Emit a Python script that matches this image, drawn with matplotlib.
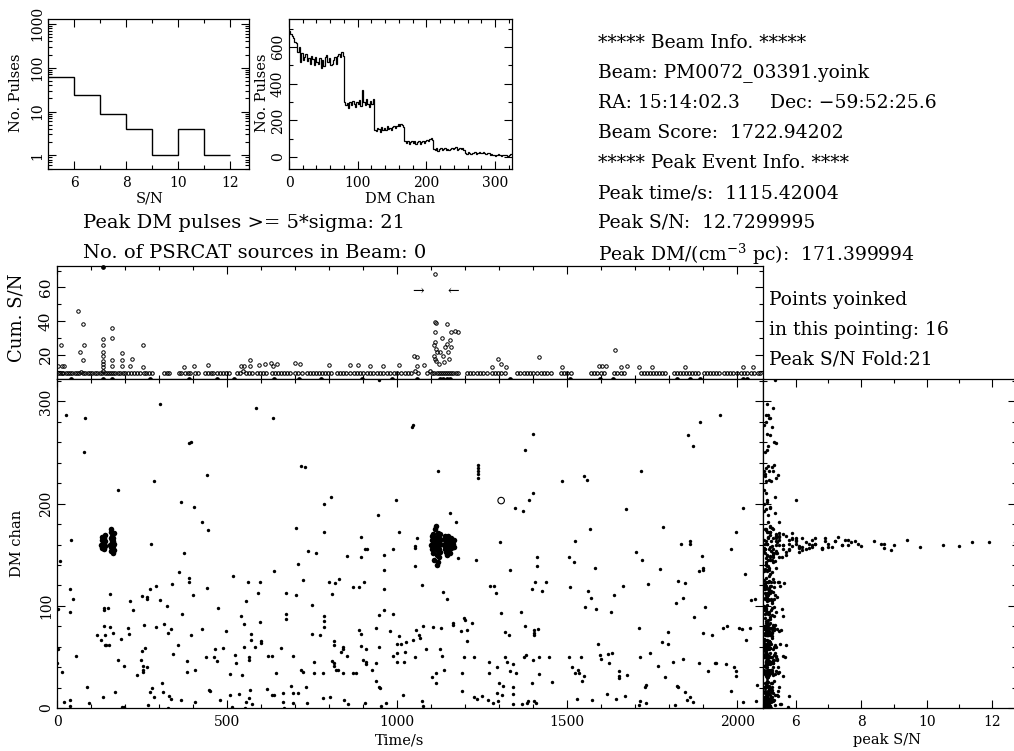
import numpy as np
import matplotlib
matplotlib.use('Agg')
import matplotlib.pyplot as plt
from matplotlib.ticker import MultipleLocator, LogLocator, NullFormatter

plt.rcParams['font.family'] = ['DejaVu Serif']
plt.rcParams['mathtext.fontset'] = 'dejavuserif'

W, H = 1014, 751

# ---- S/N histogram (top left)
snr_edges = [5, 6, 7, 8, 9, 10, 11, 12]
snr_counts = [62, 24, 9, 4, 1, 4, 1]

# ---- DM channel histogram (2-channel bins starting at 0)
dm_hist = [685, 672, 660, 648, 630, 622, 575, 598, 520, 565, 530, 548,
           560, 525, 540, 510, 552, 535, 500, 545, 520, 505, 540, 485,
           530, 498, 545, 555, 520, 540, 500, 510, 532, 548, 505, 550,
           560, 548, 575, 552,
           300, 285, 295, 270, 300, 282, 305, 290, 275, 300, 288, 310,
           280, 365, 300, 285, 315, 290, 275, 305, 290, 318,
           148, 140, 160, 152, 138, 165, 150, 158, 145, 170, 152, 160,
           148, 162, 172, 160, 168, 178, 170, 182, 175, 165,
           85, 78, 88, 72, 82, 90, 76, 85, 70, 80, 86, 74, 82, 90, 78, 88,
           95, 85, 100, 105, 92,
           45, 40, 48, 35, 42, 50, 38, 45, 52, 40, 46, 36, 44, 50, 42, 48,
           55, 40, 46, 52, 44, 50, 38,
           22, 18, 25, 20, 16, 24, 20, 26, 18, 22, 25, 20, 24, 28, 22, 18, 24, 20,
           12, 15, 10, 14, 8, 12, 16, 10, 6, 12, 9, 14, 11, 7, 13, 16]
dm_bin = 2

# ---- single pulse events (time in s, DM channel)
bg_time = [26, 83, 80, 303, 586, 636, 389, 394, 284, 440,
           178, 717, 728, 805, 998, 364, 404, 784, 943, 425,
           445, 704, 784, 1005, 41, 10, 276, 374, 738, 762,
           905, 912, 893, 963, 989, 854, 709, 894, 359, 639,
           963, 387, 387, 517, 722, 562, 598, 801, 817, 830,
           903, 37, 46, 272, 291, 337, 440, 156, 401, 592,
           673, 703, 808, 871, 889, 963, 214, 224, 250, 265,
           265, 302, 323, 472, 556, 3, 139, 139, 149, 368,
           542, 673, 673, 750, 785, 785, 785, 948, 963, 989,
           596, 38, 139, 142, 142, 156, 119, 129, 145, 153,
           164, 208, 211, 188, 257, 291, 314, 325, 335, 393,
           425, 496, 551, 569, 569, 581, 599, 599, 750, 774,
           815, 815, 840, 840, 887, 895, 938, 895, 910, 948,
           978, 1007, 3, 56, 180, 197, 236, 246, 250, 260,
           252, 252, 252, 265, 341, 357, 382, 382, 407, 437,
           462, 471, 466, 487, 509, 522, 525, 544, 551, 564,
           564, 620, 633, 644, 660, 693, 717, 724, 732, 756,
           756, 781, 808, 815, 815, 819, 827, 835, 840, 854,
           869, 879, 910, 910, 901, 925, 939, 937, 948, 989,
           1000, 1, 16, 22, 39, 39, 89, 95, 134, 171,
           190, 197, 268, 274, 279, 285, 308, 311, 327, 330,
           336, 365, 406, 447, 451, 478, 508, 515, 536, 556,
           552, 564, 567, 574, 618, 631, 638, 665, 665, 667,
           687, 693, 709, 695, 734, 781, 804, 843, 857, 907,
           951, 953, 966, 946,
           1046, 1044, 1401, 1949, 1892, 1854, 1869, 1119, 1238, 1238,
           1238, 1238, 1238, 1376, 1484, 1550, 1558, 1717, 1399, 1389,
           1347, 1369, 1673, 1157, 1173, 1566, 1782, 1998, 1053, 1053,
           1059, 1303, 1522, 1835, 1860, 1860, 1897, 1899, 1899, 1982,
           1178, 1232, 1507, 1519, 1411, 1411, 1702, 1720, 1053, 1332,
           1582, 1772, 1888, 2023, 1073, 1134, 1146, 1274, 1284, 1291,
           1396, 1407, 1437, 1427, 1508, 1562, 1569, 1554, 1584, 1639,
           1665, 1628, 1739, 1821, 1826, 1847, 1841, 1905, 1873, 2041,
           2053, 1307, 1363, 1375, 1404, 1404, 1402, 1413, 1198, 1199,
           1221, 1164, 1164, 1105, 1128, 1187, 1205, 1065, 1067, 1076,
           999, 1012, 1027, 999, 1046, 1057, 1084, 1125, 1132, 1053,
           1022, 1020, 1016, 1073, 1075, 1103, 1115, 1115, 1137, 1190,
           1191, 1196, 1207, 1226, 1225, 1235, 1250, 1266, 1283, 1269,
           1271, 1293, 1299, 1310, 1309, 1295, 1296, 1318, 1329, 1318,
           1323, 1333, 1340, 1342, 1349, 1342, 1340, 1367, 1382, 1384,
           1378, 1374, 1401, 1418, 1416, 1404, 1408, 1396, 1447, 1457,
           1506, 1513, 1524, 1528, 1531, 1536, 1541, 1543, 1550, 1574,
           1591, 1598, 1601, 1621, 1633, 1624, 1618, 1643, 1654, 1654,
           1654, 1671, 1677, 1711, 1713, 1712, 1714, 1729, 1731, 1731,
           1745, 1768, 1780, 1788, 1798, 1798, 1812, 1816, 1822, 1827,
           1841, 1847, 1861, 1871, 1852, 1887, 1899, 1913, 1926, 1935,
           1938, 1959, 1970, 1966, 1990, 1996, 1996, 1983, 2006, 2013,
           2025, 2038, 2016, 2054, 2057, 2018]
bg_dm = [287, 284, 251, 298, 294, 284, 259, 260, 222, 228,
         213, 237, 236, 207, 204, 202, 197, 200, 189, 182,
         174, 176, 172, 172, 164, 144, 161, 152, 154, 152,
         156, 156, 148, 150, 156, 149, 141, 167, 133, 134,
         135, 127, 123, 129, 125, 123, 123, 123, 122, 126,
         123, 116, 107, 116, 119, 121, 117, 112, 111, 113,
         113, 111, 112, 118, 118, 116, 105, 96, 110, 109,
         107, 106, 100, 98, 105, 97, 98, 96, 98, 92,
         90, 92, 87, 101, 90, 85, 79, 91, 96, 92,
         84, 94, 80, 71, 62, 79, 71, 67, 62, 62,
         73, 78, 72, 68, 81, 79, 82, 73, 77, 71,
         77, 75, 82, 72, 67, 60, 66, 64, 72, 71,
         66, 62, 58, 60, 76, 72, 78, 61, 58, 60,
         75, 70, 58, 51, 47, 41, 32, 47, 56, 59,
         41, 37, 35, 40, 53, 62, 46, 35, 37, 50,
         50, 46, 58, 59, 33, 52, 44, 32, 60, 50,
         47, 51, 51, 34, 59, 51, 37, 35, 21, 45,
         34, 34, 46, 44, 41, 37, 37, 55, 34, 51,
         34, 34, 45, 43, 47, 37, 44, 26, 21, 51,
         45, 44, 35, 6, 8, 2, 21, 5, 11, 16,
         1, 1, 3, 16, 20, 11, 24, 16, 0, 12,
         9, 8, 6, 18, 17, 8, 13, 1, 14, 6,
         0, 10, 18, 4, 19, 13, 13, 15, 6, 0,
         22, 15, 15, 5, 5, 10, 11, 8, 4, 5,
         20, 2, 5, 321,
         277, 275, 268, 287, 280, 267, 256, 232, 238, 235,
         232, 229, 225, 253, 222, 227, 223, 232, 210, 204,
         196, 193, 195, 191, 182, 175, 177, 172, 159, 157,
         166, 162, 163, 161, 163, 161, 149, 137, 135, 156,
         147, 145, 148, 143, 148, 139, 153, 145, 139, 135,
         137, 136, 134, 131, 120, 114, 107, 119, 119, 113,
         116, 123, 123, 115, 118, 115, 108, 99, 97, 111,
         119, 94, 121, 103, 124, 122, 108, 99, 89, 106,
         107, 93, 94, 80, 73, 71, 76, 77, 88, 86,
         83, 83, 81, 79, 78, 75, 76, 71, 69, 80,
         63, 63, 65, 54, 67, 76, 58, 58, 51, 50,
         55, 45, 13, 7, 2, 30, 34, 24, 37, 34,
         17, 50, 66, 50, 11, 9, 12, 8, 5, 45,
         34, 40, 24, 22, 13, 15, 7, 74, 71, 50,
         45, 36, 43, 21, 34, 14, 4, 4, 5, 7,
         52, 50, 47, 50, 33, 7, 5, 24, 50, 25,
         50, 40, 34, 9, 37, 34, 50, 26, 31, 8,
         63, 52, 48, 53, 54, 44, 14, 9, 36, 31,
         29, 12, 32, 78, 50, 3, 7, 21, 23, 5,
         54, 41, 65, 30, 74, 63, 45, 3, 22, 21,
         48, 16, 11, 6, 8, 44, 73, 36, 71, 44,
         44, 78, 80, 43, 40, 36, 31, 17, 78, 77,
         67, 78, 6, 7, 23, 196]
bg_snr = [5.10, 5.22, 5.05, 5.12, 5.30, 5.18, 5.40, 5.34, 5.08, 5.45,
          5.02, 5.15, 5.26, 5.38, 6.02, 5.12, 5.20, 5.04, 5.16, 5.48,
          5.09, 5.28, 5.14, 5.22, 5.03, 5.36, 5.11, 5.07, 5.24, 5.42,
          5.06, 5.18, 5.31, 5.13, 5.05, 5.22, 5.09, 5.16, 5.27, 5.04,
          5.12, 5.08, 5.35, 5.19, 5.02, 5.46, 5.14, 5.23, 5.06, 5.30,
          5.10, 5.03, 5.25, 5.15, 5.52, 5.07, 5.18, 5.11, 5.38, 5.05,
          5.21, 5.09, 5.14, 5.33, 5.04, 5.17, 5.26, 5.08, 5.12, 5.44,
          5.06, 5.19, 5.02, 5.28, 5.13, 5.58, 5.10, 5.24, 5.07, 5.16,
          5.35, 5.05, 5.20, 5.11, 5.62, 5.08, 5.15, 5.29, 5.03, 5.18,
          5.12, 5.41, 5.06, 5.22, 5.09, 5.31, 5.14, 5.04, 5.70, 5.17,
          5.08, 5.25, 5.13, 5.02, 5.36, 5.10, 5.19, 5.06, 5.27, 5.14,
          5.05, 5.48, 5.11, 5.20, 5.07, 5.33, 5.16, 5.03, 5.23, 5.09,
          5.18, 5.04, 5.30, 5.12, 5.55, 5.08, 5.21, 5.15, 5.06, 5.39,
          5.11, 5.26, 5.02, 5.17, 5.43, 5.09, 5.14, 5.32, 5.07, 5.20,
          5.04, 5.13, 5.28, 5.10, 5.06, 5.37, 5.19, 5.03, 5.24, 5.12,
          5.66, 5.08, 5.15, 5.22, 5.05, 5.34, 5.11, 5.18, 5.02, 5.29,
          5.14, 5.07, 5.40, 5.10, 5.21, 5.04, 5.16, 5.50, 5.09, 5.25,
          5.03, 5.19, 5.12, 5.31, 5.06, 5.23, 5.15, 5.08, 5.45, 5.11,
          5.27, 5.05, 5.17, 5.10, 5.35, 5.02, 5.20, 5.13, 5.07, 5.60,
          5.09, 5.22, 5.04, 5.14, 5.30, 5.11, 5.18, 5.06, 5.26, 5.13,
          5.02, 5.16, 5.38, 5.08, 5.21, 5.12, 5.05, 5.29, 5.15, 5.47,
          5.10, 5.04, 5.24, 5.17, 5.07, 5.33, 5.13, 5.75, 5.09, 5.20,
          5.06, 5.14, 5.28, 5.03, 5.19, 5.11, 5.42, 5.08, 5.16, 5.23,
          5.12, 5.05, 5.31, 5.18, 5.09, 5.25, 5.02, 5.15, 5.52, 5.10,
          5.07, 5.20, 5.13, 5.36, 5.04, 5.27, 5.11, 5.16, 5.08, 5.22,
          5.14, 5.03, 5.34, 5.09, 5.19, 5.06, 5.41, 5.12, 5.25, 5.05,
          5.17, 5.30, 5.08, 5.13, 5.22, 5.04, 5.10, 5.36, 5.15, 5.07,
          5.20, 5.11, 5.28, 5.03, 5.16, 5.44, 5.09, 5.13, 5.24, 5.06,
          5.12, 5.19, 5.05, 5.32, 5.10, 5.15, 5.57, 5.08, 5.21, 5.14,
          5.04, 5.26, 5.11, 5.17, 5.39, 5.07, 5.13, 5.22, 5.02, 5.30,
          5.16, 5.09, 5.20, 5.12, 5.06, 5.48, 5.14, 5.25, 5.10, 5.18,
          5.05, 5.33, 5.08, 5.15, 5.23, 5.11, 5.03, 5.29, 5.17, 5.64,
          5.12, 5.07, 5.21, 5.14, 5.35, 5.09, 5.18, 5.04, 5.26, 5.13,
          5.10, 5.42, 5.06, 5.16, 5.22, 5.08, 5.31, 5.12, 5.02, 5.19,
          5.15, 5.05, 5.27, 5.11, 5.52, 5.09, 5.14, 5.20, 5.07, 5.34,
          5.13, 5.18, 5.04, 5.24, 5.10, 5.16, 5.38, 5.06, 5.21, 5.12,
          5.08, 5.29, 5.15, 5.03, 5.45, 5.11, 5.19, 5.07, 5.25, 5.14,
          5.80, 5.10, 5.17, 5.22, 5.05, 5.32, 5.13, 5.09, 5.20, 5.16,
          5.06, 5.27, 5.12, 5.40, 5.08, 5.18, 5.14, 5.04, 5.23, 5.11,
          5.55, 5.07, 5.15, 5.30, 5.10, 5.21, 5.13, 5.06, 5.36, 5.17,
          5.09, 5.24, 5.02, 5.14, 5.19, 5.47, 5.12, 5.08, 5.28, 5.15,
          5.05, 5.33, 5.11, 5.20, 5.16, 5.07, 5.43, 5.13, 5.10, 5.26,
          5.18, 5.04, 5.22, 5.60, 5.12, 5.09, 5.31, 5.15, 5.06, 5.19,
          5.14, 5.27, 5.08, 5.11, 5.37, 5.03, 5.21, 5.16, 5.10, 5.25,
          5.13, 5.07, 5.18, 5.50, 5.12, 5.24, 5.09, 5.15, 5.05, 5.30,
          5.17, 5.11, 5.22, 5.08, 5.14, 5.34, 5.06, 5.20, 5.12, 5.41,
          5.09, 5.16, 5.28, 5.04, 5.13, 5.19]

# bright clusters (time, DM chan, S/N)
blob_time = [130, 131, 132, 133, 134, 135, 136, 137, 138, 139, 140, 141, 142, 136,
             157, 158, 159, 160, 161, 162, 163, 164, 165, 166, 167, 168, 162, 164, 160, 166, 169, 158,
             1100, 1102, 1103, 1104, 1105, 1106, 1107, 1108, 1109, 1110, 1111, 1112,
             1113, 1114, 1115, 1115, 1116, 1116, 1117, 1117, 1118, 1118, 1119, 1120,
             1120, 1121, 1122, 1122, 1123, 1124, 1125, 1126, 1126, 1127, 1113, 1119,
             1138, 1139, 1140, 1141, 1142, 1143, 1144, 1145, 1146, 1147, 1148, 1149, 1150, 1151,
             1152, 1153, 1154, 1155, 1156, 1157, 1158, 1159, 1160, 1162, 1164, 1165, 1167, 1168]
blob_dm = [160, 164, 157, 167, 161, 158, 163, 166, 156, 161, 169, 159, 163, 160,
           160, 166, 154, 172, 162, 157, 168, 152, 163, 159, 171, 155, 164, 160, 175, 166, 161, 158,
           160, 164, 156, 168, 152, 161, 170, 158, 145, 163, 175, 157,
           161, 166, 162, 159, 150, 164, 140, 160, 167, 155, 162, 171,
           158, 163, 148, 160, 166, 156, 161, 170, 153, 164, 178, 143,
           160, 165, 156, 161, 168, 153, 162, 158, 166, 150, 161, 163, 157, 168,
           160, 155, 164, 159, 162, 152, 166, 160, 157, 163, 158, 161, 164, 158]
blob_snr = [5.4, 5.8, 6.1, 5.5, 6.4, 7.0, 6.0, 5.3, 5.6, 6.6, 5.2, 5.9, 5.4, 7.4,
            5.6, 5.9, 5.4, 5.2, 6.3, 6.8, 5.7, 5.3, 7.2, 6.1, 5.5, 5.8, 7.6, 6.5, 5.1, 5.4, 6.0, 6.2,
            5.5, 6.0, 5.8, 5.4, 5.3, 6.6, 5.6, 7.1, 5.2, 7.8, 5.3, 6.4,
            8.7, 6.9, 12.7, 11.0, 5.7, 9.4, 5.1, 10.5, 7.3, 8.9, 11.4, 5.9,
            9.8, 8.4, 5.5, 7.6, 6.2, 6.8, 7.9, 5.4, 6.1, 6.5, 5.2, 5.3,
            5.6, 5.9, 6.3, 7.0, 5.4, 5.7, 7.7, 6.5, 6.0, 5.3, 8.6, 7.2, 6.8, 5.5,
            9.0, 6.2, 7.5, 8.0, 11.9, 5.4, 6.6, 7.4, 8.7, 6.9, 6.1, 5.8, 5.5, 5.2]

# odd event drawn as an open circle
open_time, open_dm = [1306], [203]

# ---- cumulative S/N panel
cum_time = [12, 61, 68, 77, 80, 77, 136, 136, 136, 136, 136, 136, 136,
            163, 163, 163, 163, 192, 192, 192, 220, 215, 254, 254,
            372, 404, 443, 568, 540, 549, 568, 595, 612, 628, 636, 647,
            700, 715, 800, 862, 886, 921, 958, 1006, 1050, 1058, 1060, 1078,
            1112, 1112, 1114, 1112, 1112, 1110, 1114, 1116, 1108, 1112, 1114,
            1146, 1131, 1146, 1141, 1155, 1160, 1170, 1180, 1125, 1135, 1150,
            1158, 1122, 1138, 1152, 1296, 1280, 1306, 1320, 1416, 1486, 1640,
            1593, 1603, 1615, 1658, 1675, 1711, 1749, 1847, 2016, 2048, 4, 14, 22]
cum_value = [25.8, 45.8, 21.4, 38.4, 25.8, 17.0, 29.4, 25.4, 21.4, 19.0, 16.4, 14.4, 12.4,
             35.8, 30.0, 17.0, 13.0, 20.8, 17.0, 13.0, 17.4, 13.0, 25.4, 12.6,
             12.6, 13.0, 13.6, 17.0, 13.0, 13.0, 13.0, 13.6, 14.2, 14.8, 13.0, 14.2,
             14.8, 14.2, 13.6, 13.6, 13.6, 13.0, 13.0, 13.6, 19.4, 18.4, 13.0, 13.6,
             67.8, 39.4, 38.8, 33.4, 27.4, 25.4, 23.4, 21.4, 19.4, 17.4, 16.4,
             38.0, 30.0, 26.4, 24.4, 28.4, 33.4, 33.8, 33.4, 21.4, 19.4, 21.4,
             24.4, 14.4, 15.4, 17.4, 17.4, 12.8, 14.4, 12.4, 18.8, 12.8, 22.8,
             13.0, 13.0, 13.0, 12.8, 13.0, 12.8, 12.8, 12.8, 12.8, 12.8, 13.0, 13.0, 13.0]
cum_base_time = [4, 9, 14, 19, 25, 31, 37, 43, 53, 58, 64, 70, 76, 83, 90, 97, 104, 111, 117,
                 126, 131, 136, 141, 147, 153, 158, 164, 172, 179, 186, 193, 201, 209, 217, 226,
                 235, 243, 255, 262, 270, 278, 314, 322, 330, 358, 366, 375, 384, 391, 407, 416,
                 436, 444, 452, 459, 471, 479, 488, 497, 506, 529, 537, 546, 555, 564, 573,
                 588, 597, 606, 615, 632, 641, 650, 659, 668, 677, 684, 701, 710, 719,
                 735, 744, 753, 762, 771, 780, 789, 798, 807, 824, 833, 842, 851,
                 863, 872, 881, 890, 899, 912, 921, 930, 940, 950, 959, 971, 980, 990, 1000,
                 1012, 1022, 1032, 1042, 1052, 1062, 1088, 1097, 1104, 1110, 1116, 1122, 1128,
                 1134, 1140, 1146, 1152, 1158, 1164, 1172, 1180, 1206, 1215, 1224, 1234, 1244,
                 1254, 1263, 1280, 1289, 1298, 1307, 1316, 1353, 1362, 1372, 1382, 1392, 1400,
                 1412, 1422, 1432, 1442, 1452, 1481, 1491, 1501, 1511, 1569, 1579, 1589, 1599,
                 1609, 1637, 1647, 1657, 1667, 1716, 1725, 1734, 1743, 1752, 1761, 1770, 1779,
                 1788, 1814, 1823, 1832, 1841, 1850, 1859, 1868, 1877, 1886, 1902, 1911, 1920,
                 1929, 1938, 1947, 1961, 1970, 1979, 1988, 2000, 2010, 2020, 2030, 2040, 2050,
                 2060, 2068]
cum_base_value = [9.0, 8.8, 9.2, 9.0, 8.9, 9.1, 9.0, 8.8, 9.2, 9.0, 8.9, 9.3, 9.0, 8.8, 9.1,
                  9.0, 9.2, 8.9, 9.0, 9.1, 8.8, 10.4, 9.0, 9.2, 8.9, 9.0, 9.1, 8.8, 9.0, 9.2,
                  9.0, 8.9, 9.1, 9.0, 8.8, 9.2, 9.0, 8.9, 9.1, 9.0, 9.2, 8.8, 9.0, 9.1, 9.0,
                  8.9, 9.2, 9.0, 8.8, 9.1, 9.0, 9.2, 8.9, 9.0, 9.1, 8.8, 9.0, 9.2, 9.0, 8.9,
                  9.1, 9.0, 10.4, 8.8, 9.2, 9.0, 8.9, 9.1, 9.0, 9.2, 8.8, 9.0, 9.1, 9.0, 8.9,
                  9.2, 9.0, 8.8, 9.1, 9.0, 9.2, 8.9, 9.0, 9.1, 8.8, 9.0, 9.2, 9.0, 8.9, 9.1,
                  9.0, 9.2, 8.8, 9.0, 9.1, 9.0, 8.9, 9.2, 9.0, 8.8, 9.1, 9.0, 9.2, 8.9, 9.0,
                  9.1, 8.8, 9.0, 9.2, 9.0, 8.9, 9.1, 10.4, 9.0, 9.2, 10.4, 8.8, 9.0, 9.1, 9.0,
                  8.9, 9.2, 9.0, 8.8, 9.1, 9.0, 9.2, 8.9, 9.0, 9.1, 8.8, 9.0, 9.2, 9.0, 8.9,
                  9.1, 9.0, 9.2, 8.8, 9.0, 9.1, 9.0, 8.9, 9.2, 9.0, 8.8, 9.1, 9.0, 9.2, 8.9,
                  9.0, 9.1, 8.8, 9.0, 9.2, 9.0, 8.9, 9.1, 9.0, 9.2, 8.8, 9.0, 9.1, 9.0, 8.9,
                  9.2, 9.0, 8.8, 9.1, 9.0, 9.2, 8.9, 9.0, 9.1, 8.8, 9.0, 9.2, 9.0, 8.9, 9.1,
                  9.0, 9.2, 8.8, 9.0, 9.1, 9.0, 8.9, 9.2, 9.0, 8.8, 9.1, 9.0, 9.2, 8.9, 9.0,
                  9.1, 8.8, 9.0, 9.2, 9.0, 8.9]
cum_floor_time = [42, 136, 161, 274, 387, 470, 519, 637, 711, 775, 896, 984, 1058, 1126,
                  1136, 1146, 1156, 1332, 1509, 1597, 1636, 1822, 1860, 1891, 2018, 2028]
cum_floor_value = [5.6, 5.6, 5.6, 5.6, 5.6, 5.6, 5.6, 5.6, 5.6, 5.6, 5.6, 5.6, 5.6, 5.6,
                   5.6, 5.6, 5.6, 5.6, 5.6, 5.6, 5.6, 5.6, 5.6, 5.6, 5.6, 5.6]
cum_top_time, cum_top_value = [136], [72.4]

info_lines = ['***** Beam Info. *****',
              'Beam: PM0072_03391.yoink',
              None,
              'Beam Score:  1722.94202',
              '***** Peak Event Info. ****',
              'Peak time/s:  1115.42004',
              'Peak S/N:  12.7299995',
              'Peak DM/(cm$^{-3}$ pc):  171.399994']
info_y = [43, 73, 103, 133, 163, 193, 223, 254]


def box(x0, y0, x1, y1):
    return [x0 / W, 1 - y1 / H, (x1 - x0) / W, (y1 - y0) / H]


def ftext(x, y, s, **kw):
    fig.text(x / W, 1 - y / H, s, va='center', **kw)


def pg_style(ax, ysize=10):
    ax.tick_params(which='both', direction='in', top=True, right=True,
                   width=0.8, labelsize=10, pad=3)
    ax.tick_params(which='major', length=6)
    ax.tick_params(which='minor', length=3)
    ax.tick_params(axis='x', pad=5)
    ax.tick_params(axis='y', labelsize=ysize)
    for lab in ax.get_yticklabels():
        lab.set_rotation(90)
        lab.set_va('center')
    for sp in ax.spines.values():
        sp.set_linewidth(0.9)


fig = plt.figure(figsize=(W / 100, H / 100), dpi=100)

# S/N histogram
ax1 = fig.add_axes(box(48, 19, 249, 169))
ax1.stairs(snr_counts, snr_edges, baseline=None, color='black', lw=1)
ax1.set_yscale('log')
ax1.set_xlim(5, 12.73)
ax1.set_ylim(0.49, 1290)
ax1.xaxis.set_major_locator(MultipleLocator(2))
ax1.xaxis.set_minor_locator(MultipleLocator(1))
ax1.yaxis.set_minor_locator(LogLocator(base=10, subs=np.arange(2, 10)))
ax1.yaxis.set_minor_formatter(NullFormatter())
ax1.set_yticks([1, 10, 100, 1000], ['1', '10', '100', '1000'])
pg_style(ax1)
ftext(150, 199, 'S/N', ha='center', fontsize=10.5)
ftext(16, 93, 'No. Pulses', ha='center', rotation=90, fontsize=10.5)

# DM channel histogram
ax2 = fig.add_axes(box(289, 19, 512, 169))
dm_edges = np.arange(len(dm_hist) + 1) * dm_bin
ax2.stairs(dm_hist, dm_edges, baseline=None, color='black', lw=0.9)
ax2.set_xlim(0, 324.6)
ax2.set_ylim(-65, 753)
ax2.xaxis.set_major_locator(MultipleLocator(100))
ax2.xaxis.set_minor_locator(MultipleLocator(20))
ax2.yaxis.set_major_locator(MultipleLocator(200))
ax2.yaxis.set_minor_locator(MultipleLocator(100))
pg_style(ax2)
ftext(400, 199, 'DM Chan', ha='center', fontsize=10.5)
ftext(262, 93, 'No. Pulses', ha='center', rotation=90, fontsize=10.5)

# info text
for s, y in zip(info_lines, info_y):
    if s is not None:
        ftext(598, y, s, ha='left', fontsize=13.5)
ftext(598, 103, 'RA: 15:14:02.3', ha='left', fontsize=13.5)
ftext(770, 103, 'Dec: \u221259:52:25.6', ha='left', fontsize=13.5)
ftext(83, 223, 'Peak DM pulses >= 5*sigma: 21', ha='left', fontsize=14)
ftext(83, 253, 'No. of PSRCAT sources in Beam: 0', ha='left', fontsize=14)
ftext(769, 300, 'Points yoinked', ha='left', fontsize=13.5)
ftext(769, 330, 'in this pointing: 16', ha='left', fontsize=13.5)
ftext(769, 359, 'Peak S/N Fold:21', ha='left', fontsize=13.5)

# cumulative S/N vs time
ax3 = fig.add_axes(box(57, 266, 763, 379))
ax3.plot(cum_base_time, cum_base_value, 'o', ms=2.5, mfc='none', mec='black', mew=0.8)
ax3.plot(cum_time, cum_value, 'o', ms=2.5, mfc='none', mec='black', mew=0.7)
ax3.plot(cum_floor_time, cum_floor_value, 'o', ms=2.4, color='black', clip_on=False)
ax3.plot(cum_top_time, cum_top_value, 'o', ms=2.4, color='black', clip_on=False)
ax3.text(1062, 58, '\u2192', ha='center', va='center', fontsize=10)
ax3.text(1165, 58, '\u2190', ha='center', va='center', fontsize=10)
ax3.set_xlim(0, 2076)
ax3.set_ylim(5.4, 72.8)
ax3.xaxis.set_major_locator(MultipleLocator(500))
ax3.xaxis.set_minor_locator(MultipleLocator(100))
ax3.yaxis.set_major_locator(MultipleLocator(20))
ax3.yaxis.set_minor_locator(MultipleLocator(10))
ax3.tick_params(labelbottom=False)
pg_style(ax3, ysize=11)
ftext(17, 318, 'Cum. S/N', ha='center', rotation=90, fontsize=13)

# DM channel vs time
ax4 = fig.add_axes(box(57, 379, 763, 708))
ax4.scatter(bg_time, bg_dm, s=6, color='black', lw=0)
ax4.scatter(blob_time, blob_dm, s=16, color='black', lw=0)
ax4.scatter(open_time, open_dm, s=22, facecolors='none', edgecolors='black', lw=0.8)
ax4.set_xlim(0, 2076)
ax4.set_ylim(0, 322)
ax4.xaxis.set_major_locator(MultipleLocator(500))
ax4.xaxis.set_minor_locator(MultipleLocator(100))
ax4.yaxis.set_major_locator(MultipleLocator(100))
ax4.yaxis.set_minor_locator(MultipleLocator(20))
pg_style(ax4)
ftext(400, 740, 'Time/s', ha='center', fontsize=10.5)
ftext(17, 543, 'DM chan', ha='center', rotation=90, fontsize=10.5)

# DM channel vs peak S/N
ax5 = fig.add_axes(box(763, 379, 1016, 708))
ax5.scatter(bg_snr, bg_dm[:len(bg_snr)], s=6, color='black', lw=0)
ax5.scatter(blob_snr, blob_dm, s=6, color='black', lw=0)
ax5.set_xlim(5, 12.73)
ax5.set_ylim(0, 322)
ax5.xaxis.set_major_locator(MultipleLocator(2))
ax5.xaxis.set_minor_locator(MultipleLocator(1))
ax5.yaxis.set_major_locator(MultipleLocator(100))
ax5.yaxis.set_minor_locator(MultipleLocator(20))
pg_style(ax5)
ax5.tick_params(labelleft=False)
ftext(887, 740, 'peak S/N', ha='center', fontsize=10.5)

fig.savefig('out.png', dpi=100)
